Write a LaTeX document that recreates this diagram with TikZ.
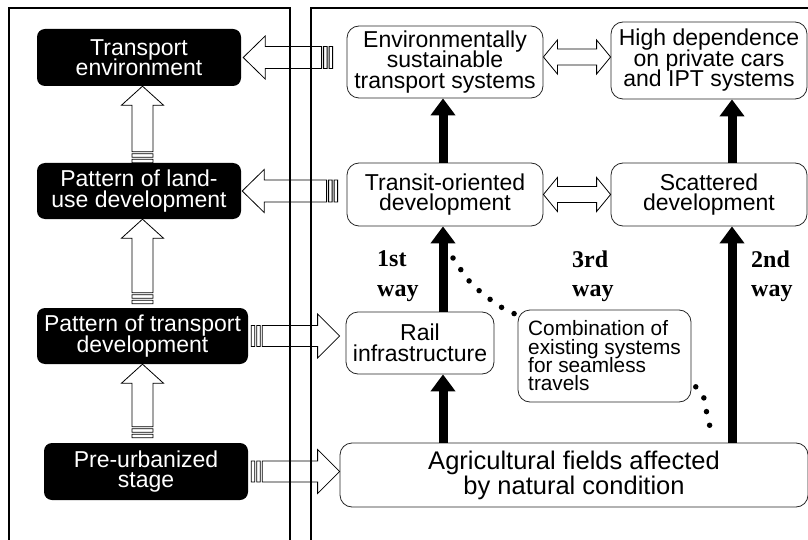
\documentclass[tikz,border=0pt]{standalone}
\usepackage{fontspec}
\setsansfont{Liberation Sans}
\newfontfamily\wayfont{Liberation Serif}
\usetikzlibrary{positioning,arrows.meta,calc}
\lineskiplimit=-40pt

\tikzset{
  blk/.style={fill=black, text=white, rounded corners=8pt, align=center, inner sep=0pt,
    font=\sffamily\fontsize{23}{20.5}\selectfont},
  wbox/.style={draw=black!85, fill=white, line width=0.8pt, rounded corners=12pt,
    align=center, inner sep=0pt, font=\sffamily\fontsize{23}{20.5}\selectfont},
  waylabel/.style={align=left, inner sep=0pt, font=\wayfont\bfseries\fontsize{24}{29.5}\selectfont},
  flow/.style={line width=9pt, -{Triangle[width=24pt,length=17pt]}},
  dots/.style={line width=5.5pt, line cap=round, dash pattern=on 0pt off 14pt},
  frame/.style={line width=2.5pt},
  % striped hollow arrow: head half width / shaft half width / head length
  hollow/.style n args={3}{draw=black, fill=white, line width=0.8pt,
    to path={
      ($(\tikztostart)!11pt!(\tikztotarget)!#2!90:(\tikztotarget)$)
      -- ($(\tikztotarget)!#3!(\tikztostart)!#2!90:(\tikztotarget)$)
      -- ($(\tikztotarget)!#3!(\tikztostart)!#1!90:(\tikztotarget)$)
      -- (\tikztotarget)
      -- ($(\tikztotarget)!#3!(\tikztostart)!#1!-90:(\tikztotarget)$)
      -- ($(\tikztotarget)!#3!(\tikztostart)!#2!-90:(\tikztotarget)$)
      -- ($(\tikztostart)!11pt!(\tikztotarget)!#2!-90:(\tikztotarget)$) -- cycle
      ($(\tikztostart)!#2!90:(\tikztotarget)$) rectangle
        ($(\tikztostart)!3.5pt!(\tikztotarget)!#2!-90:(\tikztotarget)$)
      ($(\tikztostart)!5.5pt!(\tikztotarget)!#2!90:(\tikztotarget)$) rectangle
        ($(\tikztostart)!9pt!(\tikztotarget)!#2!-90:(\tikztotarget)$)
    }},
  % hollow arrow with two heads
  twoway/.style n args={3}{draw=black, fill=white, line width=0.8pt,
    to path={
      ($(\tikztostart)!#3!(\tikztotarget)!#2!90:(\tikztotarget)$)
      -- ($(\tikztotarget)!#3!(\tikztostart)!#2!90:(\tikztotarget)$)
      -- ($(\tikztotarget)!#3!(\tikztostart)!#1!90:(\tikztotarget)$)
      -- (\tikztotarget)
      -- ($(\tikztotarget)!#3!(\tikztostart)!#1!-90:(\tikztotarget)$)
      -- ($(\tikztotarget)!#3!(\tikztostart)!#2!-90:(\tikztotarget)$)
      -- ($(\tikztostart)!#3!(\tikztotarget)!#2!-90:(\tikztotarget)$)
      -- ($(\tikztostart)!#3!(\tikztotarget)!#1!-90:(\tikztotarget)$)
      -- (\tikztostart)
      -- ($(\tikztostart)!#3!(\tikztotarget)!#1!90:(\tikztotarget)$) -- cycle
    }}
}

\begin{document}
\begin{tikzpicture}[x=1pt, y=-1pt]

\useasboundingbox (0,0) rectangle (808,540);
\clip (0,0) rectangle (808,540);

% ===========================
% Third way (dotted, behind the boxes)
% ===========================
\coordinate (dstart) at (453,258);
\coordinate (dend) at (712,439);
\draw[dots] plot[smooth] coordinates {(dstart) (470,282) (491,300) (515,314)
  (604,350) (693,385) (706,410) (dend)};

% ===========================
% LEFT: stages
% ===========================
\node[blk, minimum width=204pt, minimum height=57pt] (tenv) at (139,57.5) {Transport\\environment};
\node[blk, minimum width=204pt, minimum height=56pt] (luse) at (139,191) {Pattern of land-\\use development};
\node[blk, minimum width=211pt, minimum height=56pt] (ptd) at (142.5,336) {Pattern of transport\\development};
\node[blk, minimum width=204pt, minimum height=57pt] (pre) at (146,471.5) {Pre-urbanized\\stage};

% ===========================
% RIGHT: outcomes
% ===========================
\node[wbox, minimum width=196pt, minimum height=72pt] (env) at (445,62) {Environmentally\\sustainable\\transport systems};
\node[wbox, minimum width=196pt, minimum height=77pt] (hd) at (709,60.5) {High dependence\\on private cars\\and IPT systems};
\node[wbox, minimum width=196pt, minimum height=63pt] (tod) at (445,194.5) {Transit-oriented\\development};
\node[wbox, minimum width=196pt, minimum height=63pt] (scat) at (709,194.5) {Scattered\\development};
\node[wbox, minimum width=148pt, minimum height=62pt] (rail) at (420,343) {Rail\\infrastructure};
\node[wbox, minimum width=173pt, minimum height=92pt, align=left,
  font=\sffamily\fontsize{20.8}{18.3}\selectfont] (comb) at (604.5,356)
  {Combination of\\existing systems\\for seamless\\travels};
\node[wbox, minimum width=468pt, minimum height=64pt,
  font=\sffamily\fontsize{25.5}{25}\selectfont] (agri) at (574,475)
  {Agricultural fields affected\\by natural condition};

% Labels of the ways
\node[waylabel, anchor=north west] (way1) at (377,250.5) {1st\\way};
\node[waylabel, anchor=north west] (way3) at (572,250.5) {3rd\\way};
\node[waylabel, anchor=north west] (way2) at (751,250.5) {2nd\\way};

% ===========================
% Arrows
% ===========================
\coordinate (axis) at (142.5,0);
\coordinate (col1) at (443,0);
\coordinate (col2) at (732,0);
\coordinate (row1) at (0,57);

% stages upwards
\draw[hollow={21pt}{10.5pt}{19pt}] (axis |- luse.north) to (axis |- tenv.south);
\draw[hollow={21pt}{10.5pt}{19pt}] ([yshift=4pt]axis |- ptd.north) to (axis |- luse.south);
\draw[hollow={21pt}{10.5pt}{19pt}] ([yshift=5pt]axis |- pre.north) to (axis |- ptd.south);

% between the panels
\draw[hollow={21.5pt}{11pt}{22pt}] ([xshift=-14pt]env.west |- tenv.east) to ([xshift=2pt]tenv.east);
\draw[hollow={21.5pt}{11pt}{22pt}] ([xshift=-9pt]tod.west |- luse.east) to ([xshift=1pt]luse.east);
\draw[hollow={22pt}{10.5pt}{22pt}] ([xshift=3pt]ptd.east) to ([xshift=-6pt]rail.west |- ptd.east);
\draw[hollow={22pt}{10.5pt}{22pt}] ([xshift=3pt]pre.east) to (agri.west |- pre.east);

% two-way links
\draw[twoway={17pt}{8pt}{14pt}] (env.east |- row1) to (hd.west |- row1);
\draw[twoway={17pt}{8pt}{14pt}] (tod.east) to (scat.west |- tod.east);

% the ways
\draw[flow] (col1 |- agri.north) -- (col1 |- rail.south);
\draw[flow] (col1 |- rail.north) -- (col1 |- tod.south);
\draw[flow] (col1 |- tod.north) -- (col1 |- env.south);
\draw[flow] (col2 |- agri.north) -- (col2 |- scat.south);
\draw[flow] (col2 |- scat.north) -- (col2 |- hd.south);

% Panels
\draw[frame] (9,8) rectangle (290,600);
\draw[frame] (311,8) rectangle (900,600);

\end{tikzpicture}
\end{document}
